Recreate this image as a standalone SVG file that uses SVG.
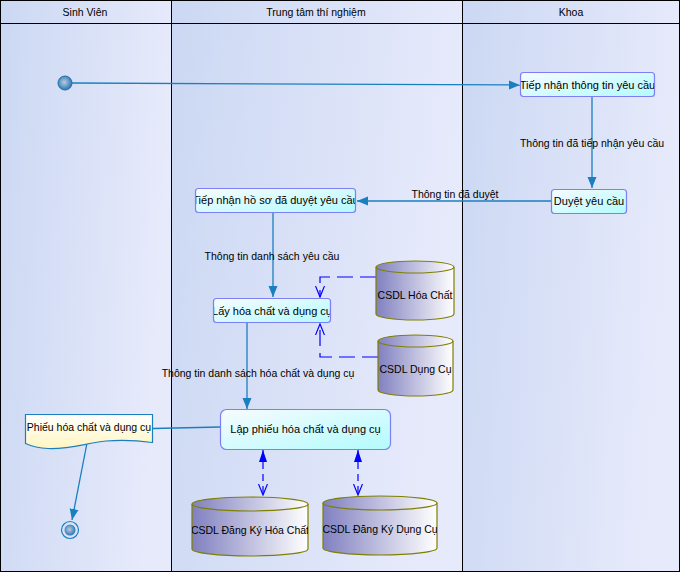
<svg xmlns="http://www.w3.org/2000/svg" width="681" height="573" viewBox="0 0 681 573">
  <style>
    text { font-family: "Liberation Sans", Arial, sans-serif; font-size: 10.5px; fill: #000; }
    .mid { text-anchor: middle; }
    .lane-line { stroke: #000; stroke-width: 1; }
    .node rect { fill: url(#nodeFill); stroke: #7f7ff5; stroke-width: 1.2; }
    .node text { font-size: 11px; }
    .flow { fill: none; stroke: #1a7fc0; stroke-width: 1.3; }
    .dep { fill: none; stroke: #0000ff; stroke-width: 1.2; stroke-dasharray: 16 7; }
    .dep2 { fill: none; stroke: #0000ff; stroke-width: 1.2; stroke-dasharray: 7 5; }
    .db path { fill: url(#dbFill); stroke: #7f7f00; stroke-width: 1.2; }
    .db ellipse { fill: url(#dbFill); stroke: #7f7f00; stroke-width: 1.2; }
  </style>
  <defs>
    <linearGradient id="laneFill" x1="0" y1="0" x2="1" y2="0.2">
      <stop offset="0" stop-color="#cbd8f3"/>
      <stop offset="1" stop-color="#e7eafb"/>
    </linearGradient>
    <linearGradient id="nodeFill" x1="0" y1="0" x2="1" y2="1">
      <stop offset="0" stop-color="#f8fbff"/>
      <stop offset="1" stop-color="#b2fbfd"/>
    </linearGradient>
    <linearGradient id="docFill" x1="0" y1="0" x2="0" y2="1">
      <stop offset="0" stop-color="#ffffff"/>
      <stop offset="1" stop-color="#fff6c0"/>
    </linearGradient>
    <linearGradient id="dbFill" x1="0" y1="0" x2="1" y2="0">
      <stop offset="0" stop-color="#8080c0"/>
      <stop offset="1" stop-color="#ffffff"/>
    </linearGradient>
    <radialGradient id="dotFill" cx="0.45" cy="0.45" r="0.6">
      <stop offset="0" stop-color="#b8cce0"/>
      <stop offset="1" stop-color="#1f70b0"/>
    </radialGradient>
    <marker id="arrowFlow" markerUnits="userSpaceOnUse" markerWidth="12" markerHeight="10" refX="11" refY="5" orient="auto">
      <path d="M0,0.5 L11,5 L0,9.5 z" fill="#1a7fc0"/>
    </marker>
    <marker id="arrowOpen" markerUnits="userSpaceOnUse" markerWidth="12" markerHeight="10" refX="11" refY="5" orient="auto">
      <path d="M0,0.5 L11,5 L0,9.5" fill="none" stroke="#0000ff" stroke-width="1.2"/>
    </marker>
    <marker id="arrowBlue" markerUnits="userSpaceOnUse" markerWidth="13" markerHeight="9" refX="12" refY="4.5" orient="auto-start-reverse">
      <path d="M0,0.5 L12,4.5 L0,8.5 z" fill="#0000ff"/>
    </marker>
    <clipPath id="clipA"><rect x="521" y="72" width="133" height="24"/></clipPath>
    <clipPath id="clipB"><rect x="196" y="188" width="159" height="25"/></clipPath>
    <clipPath id="clipC"><rect x="214" y="298" width="116" height="25"/></clipPath>
    <clipPath id="clipD"><rect x="192" y="497" width="116" height="60"/></clipPath>
    <clipPath id="clipE"><rect x="323" y="496" width="114" height="60"/></clipPath>
  </defs>

  <!-- swimlanes -->
  <g id="lanes">
    <rect x="0" y="0" width="171" height="572" fill="url(#laneFill)"/>
    <rect x="171" y="0" width="291" height="572" fill="url(#laneFill)"/>
    <rect x="462" y="0" width="218" height="572" fill="url(#laneFill)"/>
    <rect x="0.5" y="0.5" width="679" height="571" fill="none" class="lane-line"/>
    <line x1="0" y1="23.5" x2="680" y2="23.5" class="lane-line"/>
    <line x1="171.5" y1="0" x2="171.5" y2="572" class="lane-line"/>
    <line x1="462.5" y1="0" x2="462.5" y2="572" class="lane-line"/>
    <text x="85" y="16" class="mid">Sinh Viên</text>
    <text x="316" y="16" class="mid">Trung tâm thí nghiệm</text>
    <text x="571" y="16" class="mid">Khoa</text>
  </g>

  <!-- connectors -->
  <g id="connectors">
    <path class="flow" d="M72,83 L520,85" marker-end="url(#arrowFlow)"/>
    <path class="flow" d="M592,96 V188" marker-end="url(#arrowFlow)"/>
    <path class="flow" d="M551,201 H357" marker-end="url(#arrowFlow)"/>
    <path class="flow" d="M273,213 V297" marker-end="url(#arrowFlow)"/>
    <path class="flow" d="M247,323 V409" marker-end="url(#arrowFlow)"/>
    <path class="flow" d="M220,427 L153,428.5"/>
    <path class="flow" d="M87,443 L72,520" marker-end="url(#arrowFlow)"/>
    <path class="dep" d="M376,277 H320 V297" marker-end="url(#arrowOpen)"/>
    <path class="dep" d="M378,357 H320 V324" marker-end="url(#arrowOpen)"/>
    <path class="dep2" d="M263,450 V495" marker-start="url(#arrowBlue)" marker-end="url(#arrowOpen)"/>
    <path class="dep2" d="M358,450 V495" marker-start="url(#arrowBlue)" marker-end="url(#arrowOpen)"/>
    <text x="592" y="147" class="mid">Thông tin đã tiếp nhận yêu cầu</text>
    <text x="455" y="198" class="mid">Thông tin đã duyệt</text>
    <text x="272" y="260" class="mid">Thông tin danh sách yêu cầu</text>
    <text x="258" y="377" class="mid">Thông tin danh sách hóa chất và dụng cụ</text>
  </g>

  <!-- start / end -->
  <g id="start">
    <circle cx="65" cy="83" r="7" fill="url(#dotFill)" stroke="#1f6fa8" stroke-width="1"/>
  </g>
  <g id="end">
    <circle cx="70" cy="530" r="8.5" fill="none" stroke="#1a7fc0" stroke-width="1.2"/>
    <circle cx="70" cy="530" r="5.5" fill="url(#dotFill)"/>
  </g>

  <!-- activities -->
  <g id="tiep-nhan-thong-tin" class="node">
    <rect x="520.5" y="72.5" width="134" height="24" rx="3"/>
    <text x="587.5" y="89" class="mid" clip-path="url(#clipA)">Tiếp nhận thông tin yêu cầu</text>
  </g>
  <g id="duyet-yeu-cau" class="node">
    <rect x="551.5" y="189.5" width="75" height="24" rx="3"/>
    <text x="589" y="205" class="mid">Duyệt yêu cầu</text>
  </g>
  <g id="tiep-nhan-ho-so" class="node">
    <rect x="195.5" y="188.5" width="160" height="24" rx="3"/>
    <text x="275.5" y="204" class="mid" clip-path="url(#clipB)">Tiếp nhận hồ sơ đã duyệt yêu cầu</text>
  </g>
  <g id="lay-hoa-chat" class="node">
    <rect x="213.5" y="298.5" width="117" height="24" rx="3"/>
    <text x="272" y="315" class="mid" clip-path="url(#clipC)">Lấy hóa chất và dụng cụ</text>
  </g>
  <g id="lap-phieu" class="node">
    <rect x="220.5" y="409.5" width="170" height="40" rx="6"/>
    <text x="305.5" y="433" class="mid">Lập phiếu hóa chất và dụng cụ</text>
  </g>

  <!-- document -->
  <g id="phieu">
    <path d="M25.5,414.5 H152.5 V442.5 C138,440.5 122,439.5 106,441 C86,443 70,449.5 48,448.5 C37,448 30,445.5 25.5,443.5 Z" fill="url(#docFill)" stroke="#1a7fc0" stroke-width="1.2"/>
    <text x="89" y="431" class="mid">Phiếu hóa chất và dụng cụ</text>
  </g>

  <!-- data stores -->
  <g id="csdl-hoa-chat" class="db">
    <path d="M376,267 V314 A39,6 0 0 0 454,314 V267"/>
    <ellipse cx="415" cy="267" rx="39" ry="6"/>
    <text x="415" y="299" class="mid">CSDL Hóa Chất</text>
  </g>
  <g id="csdl-dung-cu" class="db">
    <path d="M378,341 V390 A37.5,6 0 0 0 453,390 V341"/>
    <ellipse cx="415.5" cy="341" rx="37.5" ry="6"/>
    <text x="415.5" y="373" class="mid">CSDL Dụng Cụ</text>
  </g>
  <g id="csdl-dk-hoa-chat" class="db">
    <path d="M192,504 V549 A58,7 0 0 0 308,549 V504"/>
    <ellipse cx="250" cy="504" rx="58" ry="7"/>
    <text x="250" y="534" class="mid" clip-path="url(#clipD)">CSDL Đăng Ký Hóa Chất</text>
  </g>
  <g id="csdl-dk-dung-cu" class="db">
    <path d="M323,503 V548 A57,7 0 0 0 437,548 V503"/>
    <ellipse cx="380" cy="503" rx="57" ry="7"/>
    <text x="380" y="533" class="mid" clip-path="url(#clipE)">CSDL Đăng Ký Dụng Cụ</text>
  </g>
</svg>
